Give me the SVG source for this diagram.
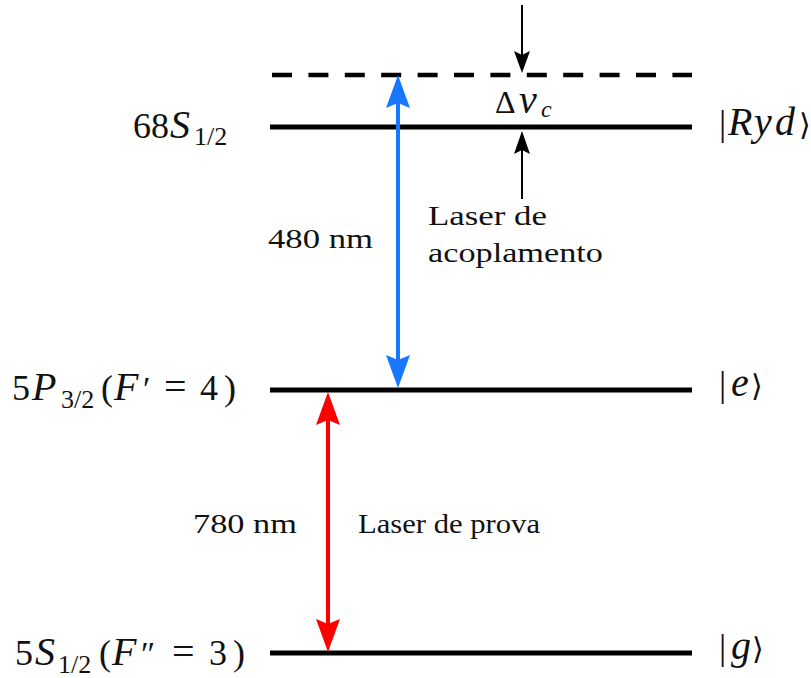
<svg xmlns="http://www.w3.org/2000/svg" width="811" height="678" viewBox="0 0 811 678">
<style>
.lvl{stroke:#000;stroke-width:5;fill:none}
.dash{stroke:#000;stroke-width:4.5;fill:none;stroke-dasharray:20 16.4}
.blue{stroke:#1877ff;stroke-width:4;fill:none}
.bluehead{fill:#1877ff}
.red{stroke:#ff0000;stroke-width:4;fill:none}
.redhead{fill:#ff0000}
.blk{stroke:#000;stroke-width:2;fill:none}
.blkhead{fill:#000}
.m{font-family:"Liberation Serif","DejaVu Serif",serif;fill:#111}
.i{font-style:italic;font-size:40px}
.s{font-size:26px}
.t{font-family:"Liberation Serif","DejaVu Serif",serif;fill:#111;font-size:27px}
</style>
<rect width="811" height="678" fill="#fff"/>

<g id="level-virtual">
<line class="dash" x1="272" y1="75" x2="692" y2="75"/>
</g>

<g id="level-ryd">
<line class="lvl" x1="270" y1="127" x2="692" y2="127"/>
<text class="m" font-size="36" y="138"><tspan x="133">68</tspan><tspan x="170" class="i">S</tspan><tspan x="194" y="145" class="s">1/2</tspan></text>
<text class="m" font-size="36" y="135"><tspan x="719">|</tspan><tspan x="728" class="i">R</tspan><tspan x="754" class="i">y</tspan><tspan x="775" class="i">d</tspan><tspan x="799" font-size="30">⟩</tspan></text>
</g>

<g id="level-e">
<line class="lvl" x1="270" y1="390" x2="692" y2="390"/>
<text class="m" font-size="36" y="400"><tspan x="12">5</tspan><tspan x="32" class="i">P</tspan><tspan x="61" y="408" class="s">3/2</tspan><tspan x="101" y="400">(</tspan><tspan x="114" class="i">F</tspan><tspan x="143" font-size="34">′</tspan><tspan x="164" font-size="40">=</tspan><tspan x="200">4</tspan><tspan x="224">)</tspan></text>
<text class="m" font-size="36" y="396"><tspan x="719">|</tspan><tspan x="731" class="i">e</tspan><tspan x="751" font-size="30">⟩</tspan></text>
</g>

<g id="level-g">
<line class="lvl" x1="270" y1="653" x2="692" y2="653"/>
<text class="m" font-size="36" y="665"><tspan x="15">5</tspan><tspan x="35" class="i">S</tspan><tspan x="58" y="673" class="s">1/2</tspan><tspan x="99" y="665">(</tspan><tspan x="112" class="i">F</tspan><tspan x="141" font-size="34">″</tspan><tspan x="172" font-size="40">=</tspan><tspan x="209">3</tspan><tspan x="233">)</tspan></text>
<text class="m" font-size="36" y="659"><tspan x="719">|</tspan><tspan x="731" class="i">g</tspan><tspan x="752" font-size="30">⟩</tspan></text>
</g>

<g id="connectors">
<g id="coupling-laser">
<line class="blue" x1="398" y1="100" x2="398" y2="363"/>
<polygon class="bluehead" points="398,75 410,108 398,103 386,108"/>
<polygon class="bluehead" points="398,388 410,355 398,360 386,355"/>
</g>
<g id="probe-laser">
<line class="red" x1="328" y1="418" x2="328" y2="626"/>
<polygon class="redhead" points="328,392 340,425 328,420 316,425"/>
<polygon class="redhead" points="328,652 340,619 328,624 316,619"/>
</g>
<g id="detuning-arrows">
<line class="blk" x1="522" y1="5" x2="522" y2="58"/>
<polygon class="blkhead" points="522,73 530,51 522,55 514,51"/>
<line class="blk" x1="522" y1="150" x2="522" y2="199"/>
<polygon class="blkhead" points="522,131 530,154 522,150 514,154"/>
</g>
</g>

<g id="labels">
<text class="m" font-size="32" y="113"><tspan x="495">Δ</tspan><tspan x="519" class="i" font-size="34">ν</tspan><tspan x="541" y="117" font-size="24" style="font-style:italic">c</tspan></text>
<text class="t" x="268" y="248" textLength="105" lengthAdjust="spacingAndGlyphs">480 nm</text>
<text class="t" x="428" y="225" textLength="119" lengthAdjust="spacingAndGlyphs">Laser de</text>
<text class="t" x="428" y="262" textLength="175" lengthAdjust="spacingAndGlyphs">acoplamento</text>
<text class="t" x="193" y="533" textLength="104" lengthAdjust="spacingAndGlyphs">780 nm</text>
<text class="t" x="358" y="533" textLength="182" lengthAdjust="spacingAndGlyphs">Laser de prova</text>
</g>
</svg>
